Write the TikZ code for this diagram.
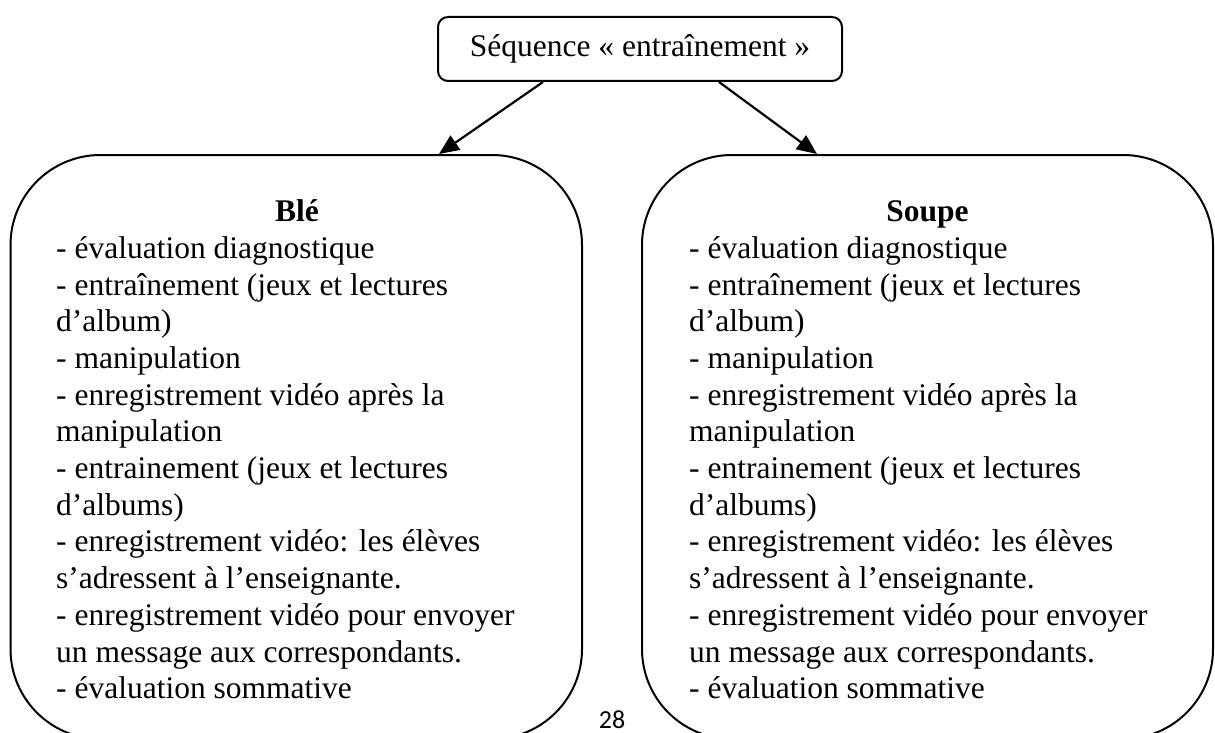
\documentclass[tikz,border=0pt]{standalone}
\usepackage{fontspec}
\setmainfont{Liberation Serif}
\newfontfamily\pagefont{Carlito}
\usetikzlibrary{arrows.meta,calc}
\newcommand\bodysize{\fontsize{31.5}{36.7}\selectfont}
\begin{document}
\begin{tikzpicture}[x=1pt,y=-1pt,
  bigbox/.style={draw, line width=2pt, rounded corners=90pt, minimum height=584pt, inner sep=0pt},
  topbox/.style={draw, line width=2pt, rounded corners=10pt, minimum width=404pt, minimum height=64pt, inner sep=0pt, font=\bodysize},
  arr/.style={line width=2.2pt, -{Triangle[length=20pt,width=17pt]}},
  boxtitle/.style={font=\bodysize\bfseries, anchor=base, inner sep=0pt},
  boxbody/.style={anchor=base west, inner sep=0pt, font=\bodysize}]
\useasboundingbox (0,0) rectangle (1215,733);
\clip (0,0) rectangle (1215,733);

\node[topbox] (top) at (640,49) {Séquence «~entraînement~»};

\node[bigbox, minimum width=571.5pt] (ble) at (296.25,447) {};
\node[bigbox, minimum width=571pt] (soupe) at (927.5,447) {};

\node[boxtitle] (bletitle) at (297,221.7) {Blé};
\node[boxtitle] (soupetitle) at (927.5,221.7) {Soupe};

\node[boxbody] (blebody) at (56,258.3) {\parbox[t]{540pt}{\bodysize\raggedright
- évaluation diagnostique\\
- entraînement (jeux et lectures\\
d’album)\\
- manipulation\\
- enregistrement vidéo après la\\
manipulation\\
- entrainement (jeux et lectures\\
d’albums)\\
- enregistrement vidéo: les élèves\\
s’adressent à l’enseignante.\\
- enregistrement vidéo pour envoyer\\
un message aux correspondants.\\
- évaluation sommative}};

\node[boxbody] (soupebody) at (689,258.3) {\parbox[t]{520pt}{\bodysize\raggedright
- évaluation diagnostique\\
- entraînement (jeux et lectures\\
d’album)\\
- manipulation\\
- enregistrement vidéo après la\\
manipulation\\
- entrainement (jeux et lectures\\
d’albums)\\
- enregistrement vidéo: les élèves\\
s’adressent à l’enseignante.\\
- enregistrement vidéo pour envoyer\\
un message aux correspondants.\\
- évaluation sommative}};

\draw[arr] ($(top.south)+(-97,0)$) -- ($(ble.north)+(142.75,0)$);
\draw[arr] ($(top.south)+(79,0)$) -- ($(soupe.north)+(-110.5,0)$);

\node[font=\pagefont\fontsize{26}{30}\selectfont, anchor=base, inner sep=0pt] (pnum) at (612,728) {28};
\end{tikzpicture}
\end{document}
